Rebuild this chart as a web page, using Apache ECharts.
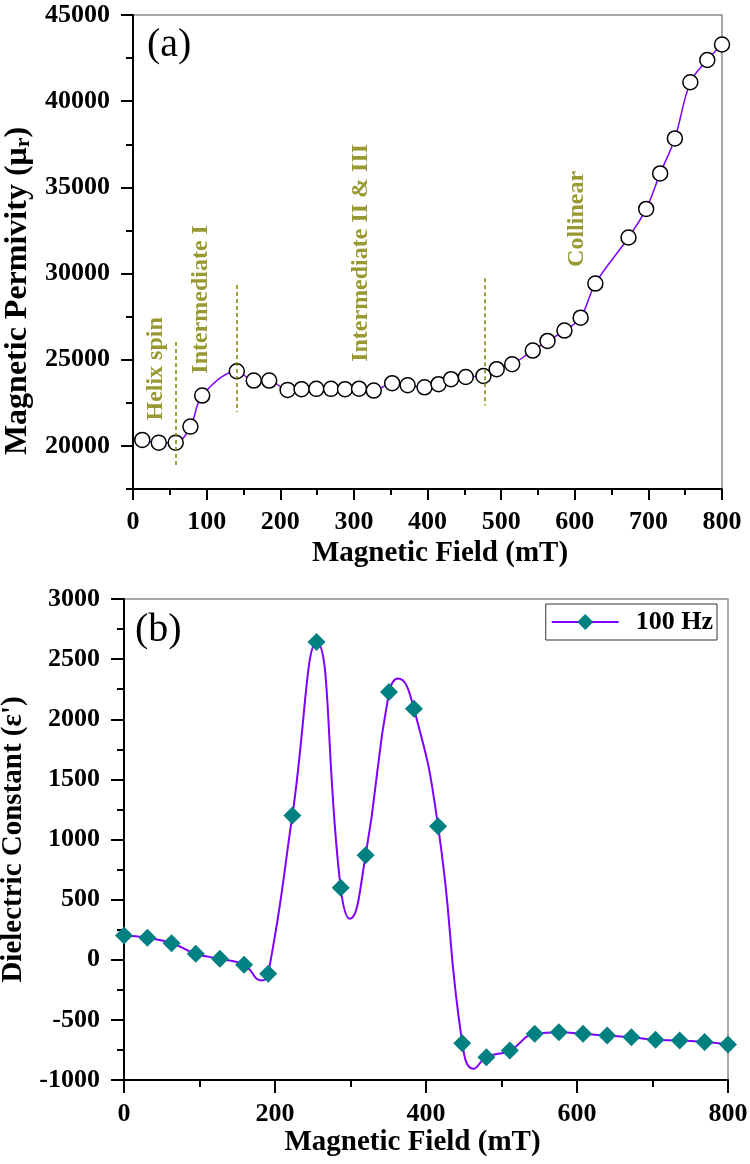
<!DOCTYPE html>
<html><head><meta charset="utf-8">
<script src="https://cdn.jsdelivr.net/npm/echarts@6/dist/echarts.min.js"></script>
<style>html,body{margin:0;padding:0;background:#fff}#c{width:750px;height:1164px}</style>
</head><body><div id="c"></div>
<script>
// ---------- Panel (a): magnetic permittivity ----------
const fieldA = [12.6, 35, 58, 78, 94, 141, 164, 185, 210, 229, 249, 269, 288, 307, 327, 352, 373, 396, 415, 432, 452, 476, 494, 515, 543, 563, 586, 608, 628, 673, 697, 716, 736, 757, 780, 800];
const permA = [20350, 20190, 20190, 21120, 22920, 24330, 23790, 23790, 23250, 23290, 23310, 23310, 23290, 23320, 23210, 23640, 23520, 23400, 23580, 23870, 24000, 24060, 24450, 24740, 25530, 26090, 26690, 27440, 29420, 32090, 33750, 35810, 37840, 41100, 42390, 43290];
const majorTicksA = [20000, 25000, 30000, 35000, 40000, 45000];
const minorTicksA = [17500, 22500, 27500, 32500, 37500, 42500];
// phase boundaries (dashed lines)
const boundaryField = [58, 141.5, 478];
const boundaryTop = [26030, 29340, 29730];
const boundaryBottom = [18720, 21970, 22350];
// phase labels
const phaseNames = ['Helix spin', 'Intermediate I', 'Intermediate II & III', 'Collinear'];
const phaseField = [31, 92, 310, 603];
const phasePerm = [24470, 28500, 31200, 33170];

// ---------- Panel (b): dielectric constant ----------
const fieldB = [0, 31, 63, 95, 127, 159, 191, 223, 255, 287, 320, 351, 384, 416, 448, 480, 511, 544, 576, 608, 640, 672, 704, 736, 769, 800];
const epsB = [202, 183, 138, 50, 8, -42, -117, 1200, 2642, 599, 868, 2226, 2088, 1111, -694, -810, -755, -616, -602, -616, -630, -644, -666, -671, -685, -705];
// turning points of the drawn curve (no marker)
const curveField = [182, 299, 363, 463];
const curveEps = [-172, 341, 2338, -907];

const FONT = '"Liberation Serif", "Times New Roman", serif';
const PURPLE = '#8000ff';
const OLIVE = '#808000';

const seriesBData = fieldB.map((x, i) => ({ value: [x, epsB[i]] }))
  .concat(curveField.map((x, i) => ({ value: [x, curveEps[i]], symbol: 'none' })))
  .sort((a, b) => a.value[0] - b.value[0]);

const plain = v => String(v);
const tickLabel = { color: '#000', fontFamily: FONT, fontWeight: 'bold', fontSize: 26, formatter: plain };
const axisLineStyle = { show: true, onZero: false, lineStyle: { color: '#000', width: 2 } };

const chart = echarts.init(document.getElementById('c'), null, { renderer: 'canvas' });
chart.setOption({
  animation: false,
  backgroundColor: '#fff',
  grid: [
    { left: 133, top: 15, right: 28, height: 474, containLabel: false, outerBoundsMode: 'none', show: true, borderColor: '#8c8c8c', borderWidth: 1.5, backgroundColor: 'transparent' },
    { left: 124, top: 599, right: 22, height: 481, containLabel: false, outerBoundsMode: 'none', show: true, borderColor: '#8c8c8c', borderWidth: 1.5, backgroundColor: 'transparent' }
  ],
  xAxis: [
    {
      gridIndex: 0, type: 'value', min: 0, max: 800, interval: 100,
      axisLine: axisLineStyle,
      axisTick: { show: true, length: 11, lineStyle: { color: '#000', width: 2 } },
      minorTick: { show: true, splitNumber: 2, length: 6, lineStyle: { color: '#000', width: 2 } },
      splitLine: { show: false },
      axisLabel: Object.assign({ margin: 20 }, tickLabel),
      name: 'Magnetic Field (mT)', nameLocation: 'middle', nameGap: 50,
      nameTextStyle: { color: '#000', fontFamily: FONT, fontWeight: 'bold', fontSize: 29, padding: [0, 0, 0, 25] }
    },
    {
      gridIndex: 1, type: 'value', min: 0, max: 800, interval: 200,
      axisLine: axisLineStyle,
      axisTick: { show: true, length: 13, lineStyle: { color: '#000', width: 2 } },
      minorTick: { show: true, splitNumber: 2, length: 7, lineStyle: { color: '#000', width: 2 } },
      splitLine: { show: false },
      axisLabel: Object.assign({ margin: 21 }, tickLabel),
      name: 'Magnetic Field (mT)', nameLocation: 'middle', nameGap: 42,
      nameTextStyle: { color: '#000', fontFamily: FONT, fontWeight: 'bold', fontSize: 29, padding: [0, 27, 0, 0] }
    }
  ],
  yAxis: [
    {
      gridIndex: 0, type: 'value', position: 'left', min: 17500, max: 45000, interval: 2500,
      axisLine: axisLineStyle,
      axisTick: { show: true, length: 12, customValues: majorTicksA, lineStyle: { color: '#000', width: 2 } },
      splitLine: { show: false },
      axisLabel: Object.assign({ margin: 23, customValues: majorTicksA }, tickLabel),
      name: '{n|Magnetic Permivity (μ}{s|r}{n|)}', nameLocation: 'middle', nameGap: 96,
      nameTextStyle: {
        color: '#000', fontFamily: FONT, fontWeight: 'bold', fontSize: 32, padding: [0, 78, 0, 0],
        rich: {
          n: { color: '#000', fontFamily: FONT, fontWeight: 'bold', fontSize: 32, lineHeight: 32 },
          s: { color: '#000', fontFamily: FONT, fontWeight: 'bold', fontSize: 22, lineHeight: 14, verticalAlign: 'bottom' }
        }
      }
    },
    {
      gridIndex: 0, type: 'value', position: 'left', min: 17500, max: 45000, interval: 2500,
      axisLine: { show: false },
      axisTick: { show: true, length: 7, customValues: minorTicksA, lineStyle: { color: '#000', width: 2 } },
      axisLabel: { show: false },
      splitLine: { show: false }
    },
    {
      gridIndex: 1, type: 'value', min: -1000, max: 3000, interval: 500,
      axisLine: axisLineStyle,
      axisTick: { show: true, length: 13, lineStyle: { color: '#000', width: 2 } },
      minorTick: { show: true, splitNumber: 2, length: 7, lineStyle: { color: '#000', width: 2 } },
      splitLine: { show: false },
      axisLabel: Object.assign({ margin: 24 }, tickLabel),
      name: "Dielectric Constant (ε')", nameLocation: 'middle', nameGap: 71,
      nameTextStyle: { color: '#000', fontFamily: FONT, fontWeight: 'bold', fontSize: 29 }
    }
  ],
  legend: {
    data: ['100 Hz'],
    right: 33, top: 604,
    padding: [5, 4, 5, 5],
    itemWidth: 67, itemHeight: 20,
    borderColor: '#333', borderWidth: 1, backgroundColor: '#fff',
    textStyle: { color: '#000', fontFamily: FONT, fontWeight: 'bold', fontSize: 26, padding: [0, 0, 0, 12] }
  },
  graphic: [
    { type: 'text', x: 147, y: 45, style: { text: '(a)', fill: '#000', font: '40px "Liberation Serif", serif', textVerticalAlign: 'middle' } },
    { type: 'text', x: 135, y: 630, style: { text: '(b)', fill: '#000', font: '40px "Liberation Serif", serif', textVerticalAlign: 'middle' } }
  ],
  series: [
    {
      name: 'permittivity', type: 'line', xAxisIndex: 0, yAxisIndex: 0,
      data: fieldA.map((x, i) => [x, permA[i]]),
      smooth: 0.35,
      symbol: 'circle', symbolSize: 15,
      lineStyle: { color: PURPLE, width: 1.5 },
      itemStyle: { color: '#fff', borderColor: '#000', borderWidth: 1.5 },
      markLine: {
        silent: true, symbol: 'none', label: { show: false },
        lineStyle: { color: OLIVE, type: [4, 3], width: 1.5 },
        data: boundaryField.map((x, i) => [{ coord: [x, boundaryTop[i]] }, { coord: [x, boundaryBottom[i]] }])
      },
      z: 3
    },
    {
      name: 'phases', type: 'scatter', xAxisIndex: 0, yAxisIndex: 0,
      symbolSize: 0, silent: true,
      data: phaseNames.map((t, i) => [phaseField[i], phasePerm[i], t]),
      label: {
        show: true, position: 'inside', rotate: 90, align: 'center', verticalAlign: 'middle',
        formatter: p => p.value[2],
        color: OLIVE, fontFamily: FONT, fontWeight: 'bold', fontSize: 24
      },
      z: 4
    },
    {
      name: '100 Hz', type: 'line', xAxisIndex: 1, yAxisIndex: 2,
      data: seriesBData,
      smooth: 0.5,
      symbol: 'diamond', symbolSize: 18,
      lineStyle: { color: PURPLE, width: 2 },
      itemStyle: { color: '#008080' },
      z: 3
    }
  ]
});
</script>
</body></html>
